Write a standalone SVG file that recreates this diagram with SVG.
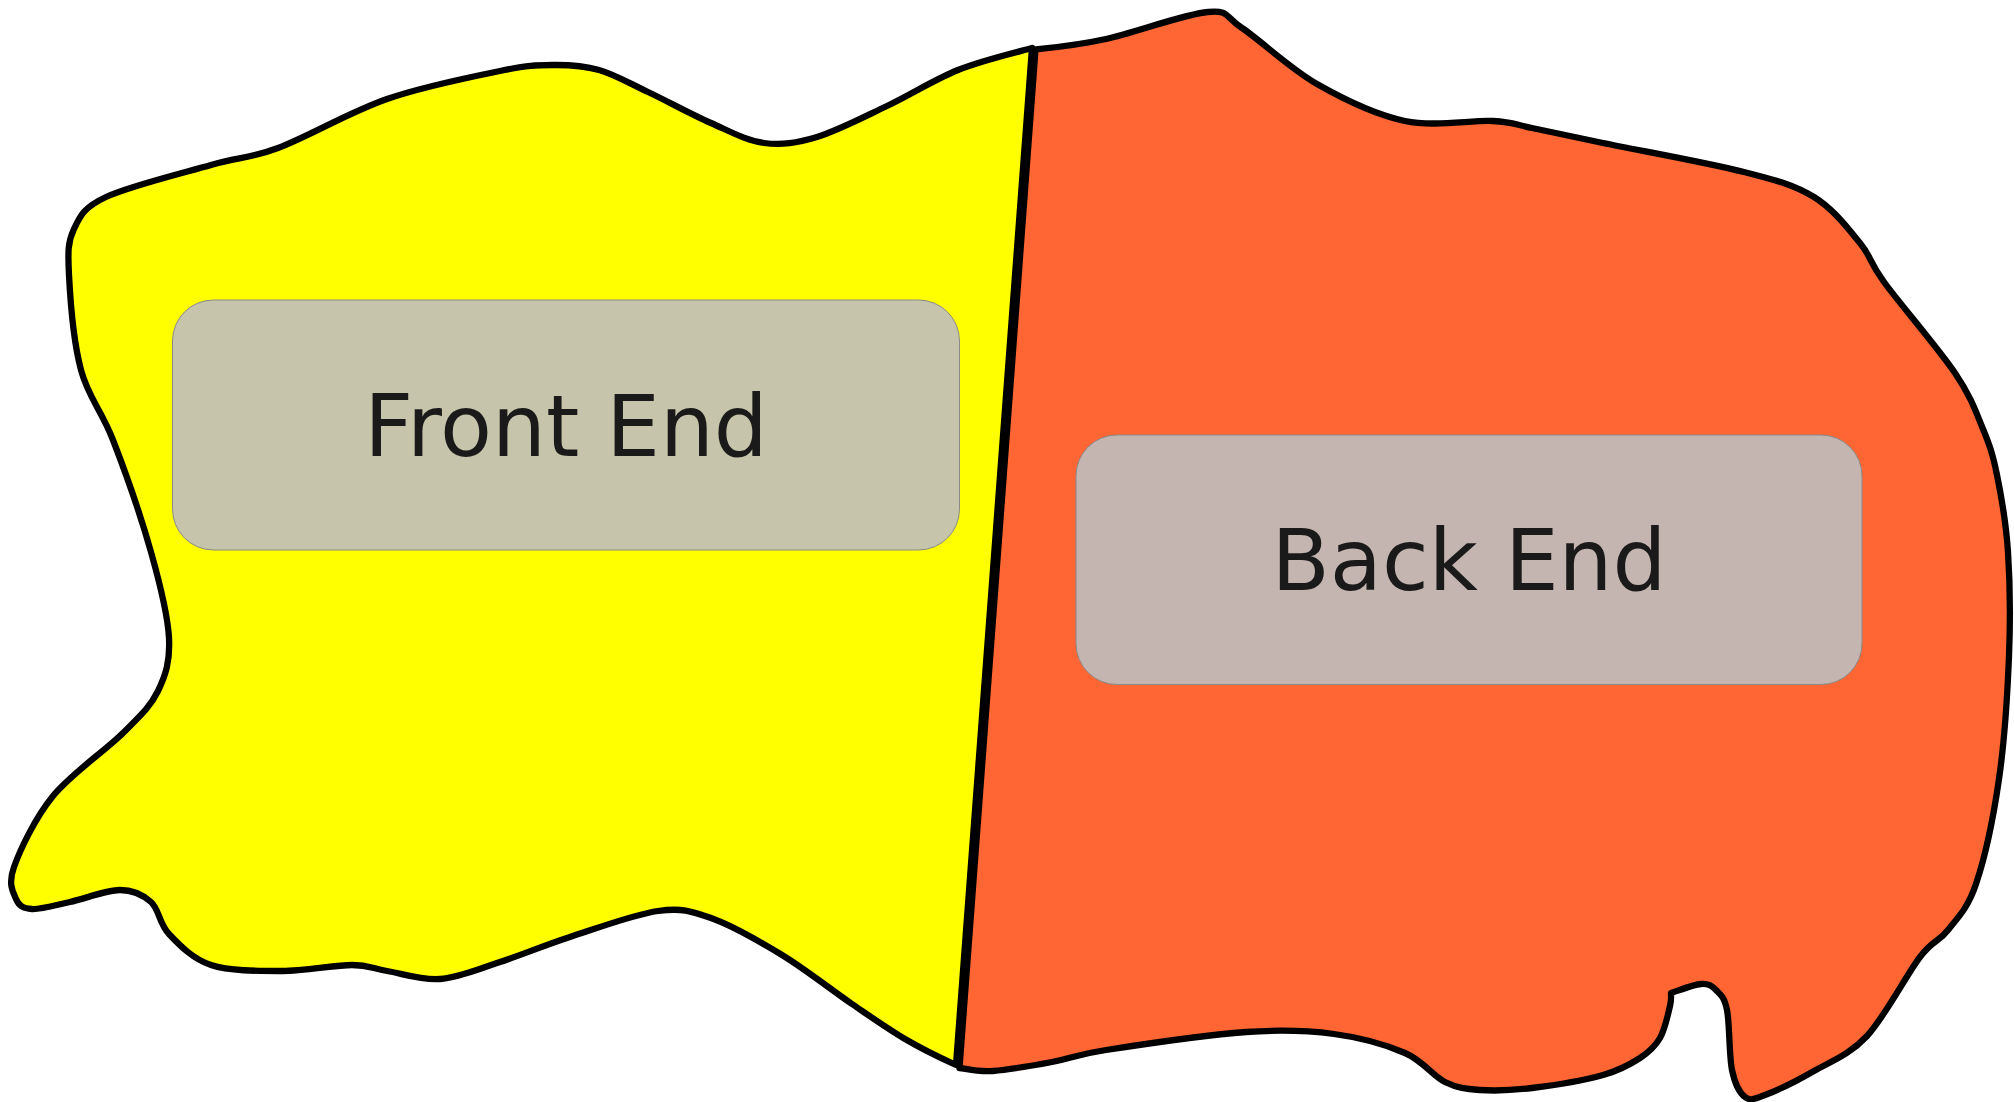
<svg xmlns="http://www.w3.org/2000/svg" width="2014" height="1102" viewBox="0 0 2014 1102">
<style>
.region{stroke:#000;stroke-width:6.3;stroke-linejoin:round}
.box{stroke:#8a8a8a;stroke-width:1}
.lbl{font-family:"DejaVu Sans","Liberation Sans",sans-serif;font-size:85px;fill:#1a1a1a;text-anchor:middle}
</style>
<rect width="2014" height="1102" fill="#fff"/>
<g id="front-end-region">
<path class="region" fill="#ffff00" d="M1032,48 C1018.8,51.7 982,60.3 958,70 C934,79.7 910.5,94.8 887,106 C863.5,117.2 837.5,130.8 817,137 C796.5,143.2 781.7,145.3 764,143 C746.3,140.7 730.3,131.5 711,123 C691.7,114.5 666.7,100.8 648,92 C629.3,83.2 614.8,74.5 599,70 C583.2,65.5 569.5,64.8 553,65 C536.5,65.2 527.7,65.3 500,71 C472.3,76.7 424,86.2 387,99 C350,111.8 307.3,137 278,148 C248.7,159 239.7,156.8 211,165 C182.3,173.2 128.8,186.3 106,197 C83.2,207.7 80.2,216 74,229 C67.8,242 67.8,251.5 69,275 C70.2,298.5 73.7,342.5 81,370 C88.3,397.5 101.3,409.7 113,440 C124.7,470.3 141.7,519 151,552 C160.3,585 167.8,614.8 169,638 C170.2,661.2 165.7,675.2 158,691 C150.3,706.8 140.5,715.5 123,733 C105.5,750.5 71.2,773.7 53,796 C34.8,818.3 20.2,849.8 14,867 C7.8,884.2 13,892 16,899 C19,906 23,908.5 32,909 C41,909.5 55.3,905.2 70,902 C84.7,898.8 106.5,890 120,890 C133.5,890 142.8,894.7 151,902 C159.2,909.3 159,923.5 169,934 C179,944.5 192.2,958.8 211,965 C229.8,971.2 258.5,971 282,971 C305.5,971 334.5,965 352,965 C369.5,965 372.3,968.7 387,971 C401.7,973.3 421.2,980.5 440,979 C458.8,977.5 478.3,969 500,962 C521.7,955 543.7,945.5 570,937 C596.3,928.5 634.5,914.2 658,911 C681.5,907.8 690.3,910.7 711,918 C731.7,925.3 758.5,940.7 782,955 C805.5,969.3 831.5,990 852,1004 C872.5,1018 888,1029 905,1039 C922,1049 946.8,1060.8 956,1065 L1032,48 Z"/>
</g>
<g id="back-end-region">
<path class="region" fill="#ff6633" d="M1035.5,49.5 C1047.7,48.2 1077.3,45.3 1106,39 C1134.7,32.7 1185.3,13.8 1208,12 C1230.7,10.2 1223.8,16 1242,28 C1260.2,40 1289.8,68.5 1317,84 C1344.2,99.5 1375.7,114.8 1405,121 C1434.3,127.2 1471.8,119.8 1493,121 C1514.2,122.2 1513.7,124.3 1532,128 C1550.3,131.7 1567.7,135.7 1603,143 C1638.3,150.3 1708.8,163 1744,172 C1779.2,181 1794.7,185.2 1814,197 C1833.3,208.8 1848.3,228.8 1860,243 C1871.7,257.2 1868.2,260.3 1884,282 C1899.8,303.7 1938.5,348.5 1955,373 C1971.5,397.5 1976,412 1983,429 C1990,446 1992.8,454.5 1997,475 C2001.2,495.5 2006,521.8 2008,552 C2010,582.2 2010.5,618.2 2009,656 C2007.5,693.8 2004.5,741 1999,779 C1993.5,817 1984.5,858.8 1976,884 C1967.5,909.2 1957.3,917.8 1948,930 C1938.7,942.2 1933.5,939.3 1920,957 C1906.5,974.7 1884.7,1017 1867,1036 C1849.3,1055 1831,1061.2 1814,1071 C1797,1080.8 1776.5,1090.7 1765,1095 C1753.5,1099.3 1750.5,1101.2 1745,1097 C1739.5,1092.8 1735,1084.5 1732,1070 C1729,1055.5 1729.7,1023.3 1727,1010 C1724.3,996.7 1720.3,994.3 1716,990 C1711.7,985.7 1708.5,983.5 1701,984 C1693.5,984.5 1676,991.5 1671,993 C1670.8,995.2 1671.8,998.5 1670,1006 C1668.2,1013.5 1665,1029.3 1660,1038 C1655,1046.7 1649.5,1051.8 1640,1058 C1630.5,1064.2 1621,1070 1603,1075 C1585,1080 1552.5,1085.5 1532,1088 C1511.5,1090.5 1494.5,1091 1480,1090 C1465.5,1089 1457.5,1088.2 1445,1082 C1432.5,1075.8 1423.5,1061 1405,1053 C1386.5,1045 1360.5,1037.5 1334,1034 C1307.5,1030.5 1284,1029.3 1246,1032 C1208,1034.7 1138.3,1045 1106,1050 C1073.7,1055 1070.8,1058.5 1052,1062 C1033.2,1065.5 1008.2,1069.8 993,1071 C977.8,1072.2 966.3,1068.8 959.5,1068 L1035.5,49.5 Z"/>
</g>
<g id="front-end">
<rect class="box" x="172.5" y="300" width="787" height="250" rx="41" ry="41" fill="#c6c5ab"/>
<text class="lbl" x="566" y="456">Front End</text>
</g>
<g id="back-end">
<rect class="box" x="1076" y="435" width="786" height="249.5" rx="41" ry="41" fill="#c4b5b0"/>
<text class="lbl" x="1469" y="589.5">Back End</text>
</g>
<g id="connectors"></g>
</svg>
